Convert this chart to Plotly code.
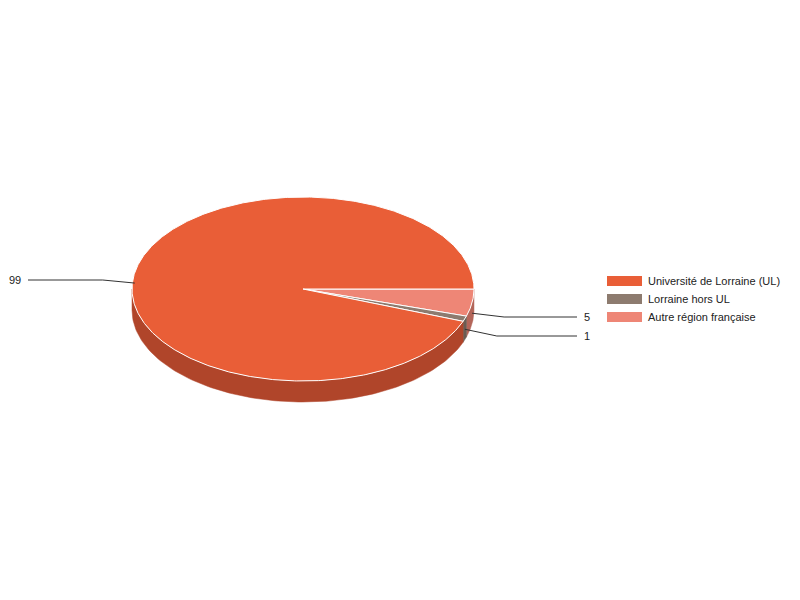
import numpy as np
import plotly.graph_objects as go

# ---- data ----
categories = ["Université de Lorraine (UL)", "Lorraine hors UL", "Autre région française"]
values = [99, 1, 5]
colors = ["#E95E37", "#8D7B6F", "#EE8676"]
side_colors = ["#B0452A", "#6A5C53", "#B36559"]

# ---- layout geometry (page pixels) ----
cx, cy = 303, 289
rx, ry = 171, 92
depth = 21
label_y = [280, 336, 317]       # vertical position of each value label
left_end, right_end = 28, 577
PAGE_MARGIN = 8                 # browser body margin
FONT = dict(family="Arial, Liberation Sans", size=11, color="#222222")

total = sum(values)
# slices go clockwise on screen from 3 o'clock in reverse data order
order = list(range(len(values)))[::-1]
angles = {}
acc = 0.0
for i in order:
    a0 = acc
    acc += values[i] / total * 360.0
    angles[i] = (a0, acc)

def pt(theta_deg, dy=0.0):
    t = np.radians(theta_deg)
    return cx + rx * np.cos(t), cy + ry * np.sin(t) + dy

fig = go.Figure()

# side walls (front half: 0..180 deg)
for i in order:
    a0, a1 = angles[i]
    s0, s1 = max(a0, 0), min(a1, 180)
    if s1 <= s0:
        continue
    th = np.linspace(s0, s1, 120)
    xt, yt = pt(th)
    xb, yb = pt(th[::-1], depth)
    fig.add_trace(go.Scatter(x=np.concatenate([xt, xb, xt[:1]]),
                             y=np.concatenate([yt, yb, yt[:1]]),
                             mode="lines", fill="toself", fillcolor=side_colors[i],
                             line=dict(color=side_colors[i], width=0.5),
                             hoverinfo="skip", showlegend=False))

# top faces
for i in order:
    a0, a1 = angles[i]
    th = np.linspace(a0, a1, max(int((a1 - a0) * 2), 8))
    xs, ys = pt(th)
    fig.add_trace(go.Scatter(x=np.concatenate([[cx], xs, [cx]]),
                             y=np.concatenate([[cy], ys, [cy]]),
                             mode="lines", fill="toself", fillcolor=colors[i],
                             line=dict(color="white", width=1),
                             hoverinfo="skip", showlegend=False,
                             name=categories[i]))

# leader lines + value labels
annotations = []
for i in range(len(values)):
    a0, a1 = angles[i]
    mid = (a0 + a1) / 2
    ax, ay = pt(mid, depth / 2)
    right = np.cos(np.radians(mid)) >= 0
    ex = ax + (32 if right else -32)
    end = right_end if right else left_end
    fig.add_trace(go.Scatter(x=[ax, ex, end], y=[ay, label_y[i], label_y[i]],
                             mode="lines", line=dict(color="#333333", width=1),
                             hoverinfo="skip", showlegend=False))
    annotations.append(dict(x=end + (5 if right else -5), y=label_y[i], text=str(values[i]),
                            xanchor="left" if right else "right", yanchor="middle",
                            showarrow=False, font=FONT))

# legend
shapes = []
for k, name in enumerate(categories):
    y0 = 276 + k * 18
    shapes.append(dict(type="rect", x0=607, x1=642, y0=y0, y1=y0 + 10,
                       fillcolor=colors[k], line=dict(width=0), layer="above"))
    annotations.append(dict(x=646, y=y0 + 5, text=name, xanchor="left", yanchor="middle",
                            showarrow=False, font=FONT))

W, H = 800 - 2 * PAGE_MARGIN, 600 - 2 * PAGE_MARGIN
fig.update_layout(
    width=W, height=H,
    margin=dict(l=0, r=0, t=0, b=0),
    paper_bgcolor="white", plot_bgcolor="white",
    xaxis=dict(range=[PAGE_MARGIN, PAGE_MARGIN + W], visible=False, fixedrange=True),
    yaxis=dict(range=[PAGE_MARGIN + H, PAGE_MARGIN], visible=False, fixedrange=True),
    shapes=shapes, annotations=annotations, showlegend=False,
)

fig.write_html("out.html", config={"displayModeBar": False})
